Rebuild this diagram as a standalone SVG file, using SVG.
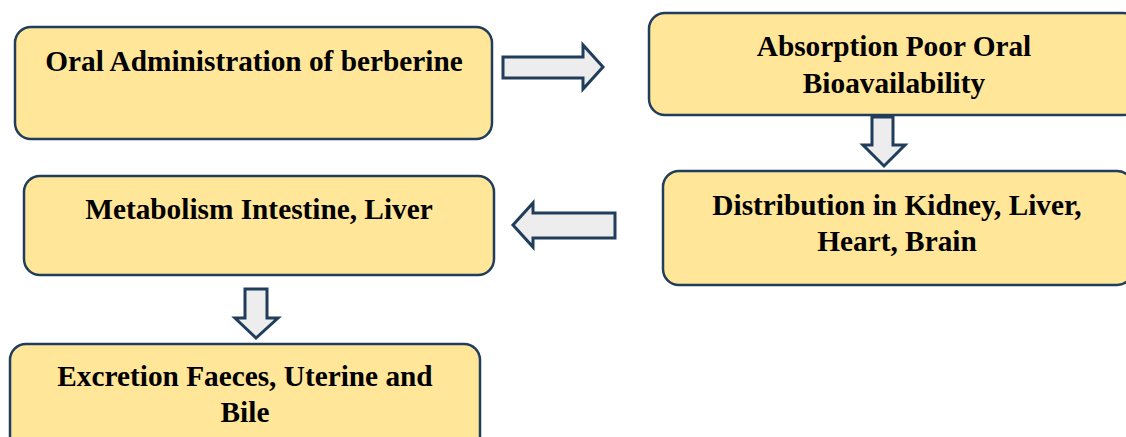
<svg xmlns="http://www.w3.org/2000/svg" width="1126" height="437" viewBox="0 0 1126 437">
<style>
.box{fill:#FFE699;stroke:#203D5C;stroke-width:2.5}
.arr{fill:#EDEDED;stroke:#203D5C;stroke-width:3;stroke-linejoin:miter}
.t{font-family:"Liberation Serif","Times New Roman",serif;font-weight:bold;font-size:29.3px;fill:#000;text-anchor:middle}
</style>
<rect width="1126" height="437" fill="#fff"/>
<g id="node-oral">
<rect class="box" x="15" y="27" width="477" height="112" rx="16"/>
<text class="t" x="254" y="71">Oral Administration of berberine</text>
</g>
<g id="node-absorption">
<rect class="box" x="649" y="13" width="490" height="102" rx="16"/>
<text class="t" x="894" y="56">Absorption Poor Oral</text>
<text class="t" x="894" y="93">Bioavailability</text>
</g>
<g id="node-metabolism">
<rect class="box" x="24" y="176" width="470" height="99" rx="16"/>
<text class="t" x="259" y="219">Metabolism Intestine, Liver</text>
</g>
<g id="node-distribution">
<rect class="box" x="663" y="171" width="470" height="114" rx="16"/>
<text class="t" x="897" y="215">Distribution in Kidney, Liver,</text>
<text class="t" x="897" y="251">Heart, Brain</text>
</g>
<g id="node-excretion">
<rect class="box" x="10" y="344" width="470" height="110" rx="16"/>
<text class="t" x="245" y="386">Excretion Faeces, Uterine and</text>
<text class="t" x="245" y="422">Bile</text>
</g>
<g id="connectors">
<polygon class="arr" points="503,57 583,57 583,45 603,67 583,89 583,78 503,78"/>
<polygon class="arr" points="872,117 893,117 893,145 905,145 884,166 863,145 872,145"/>
<polygon class="arr" points="615,213 533,213 533,203 513,225 533,247 533,238 615,238"/>
<polygon class="arr" points="245,289 267,289 267,318 278,318 256,338 235,318 245,318"/>
</g>
</svg>
